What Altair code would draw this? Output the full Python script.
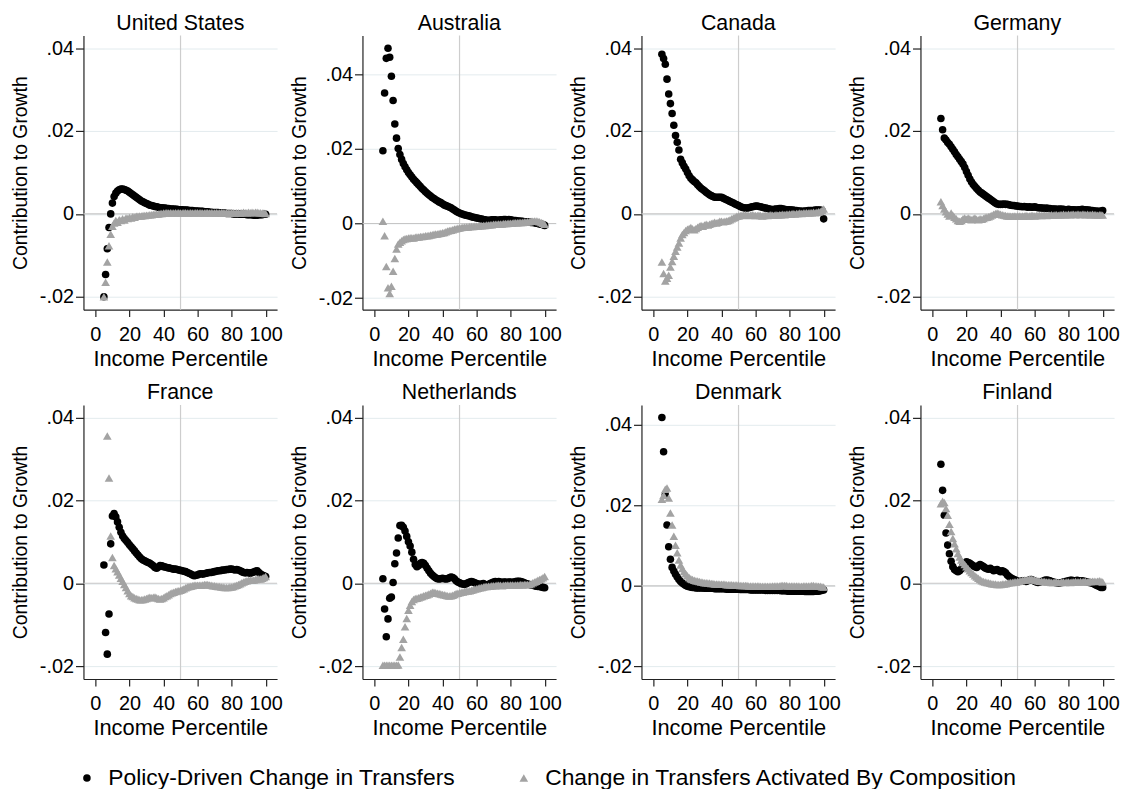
import altair as alt
import pandas as pd

# ---------------- data (values in thousandths, percentiles 5..100) ----------------
PCT = list(range(5, 101))
COUNTRIES = ["United States", "Australia", "Canada", "Germany",
             "France", "Netherlands", "Denmark", "Finland"]
SERIES = ["Policy-Driven Change in Transfers",
          "Change in Transfers Activated By Composition"]
TICK_VALUES = [-0.02, 0, 0.02, 0.04]
TICK_LABELS = ["-.02", "0", ".02", ".04"]
X_TICKS = [0, 20, 40, 60, 80, 100]

US_P = [-20, -14.6, -8.4, -3.3, 0, 2.6, 4.2, 5.0, 5.5, 5.8, 6.0, 6.0, 5.9, 5.7, 5.5, 5.2,
        4.9, 4.6, 4.3, 4.0, 3.7, 3.4, 3.1, 2.9, 2.7, 2.5,
        2.3, 2.1, 2.0, 1.9, 1.8, 1.7, 1.6, 1.5, 1.5, 1.4,
        1.4, 1.3, 1.3, 1.2, 1.2, 1.2, 1.1, 1.1, 1.0, 1.0,
        1.0, 0.9, 0.9, 0.9, 0.8, 0.8, 0.8, 0.7, 0.7, 0.7,
        0.6, 0.6, 0.6, 0.5, 0.5, 0.5, 0.4, 0.4, 0.3, 0.3,
        0.3, 0.3, 0.2, 0.2, 0.2, 0.2, 0.1, 0.1, 0.1, 0.1,
        0.0, 0.0, 0.0, 0.0, -0.1, -0.1, -0.1, -0.1, -0.2, -0.2,
        -0.2, -0.2, -0.3, -0.3, -0.3, -0.2, -0.2, -0.2, -0.1, -0.1]
US_C = [-20, -16.5, -11.6, -7.7, -4.9, -3.0, -2.2, -1.6, -2.0, -1.4, -1.6, -1.2, -1.5, -1.0, -1.1, -0.9,
        -1.0, -0.7, -0.8, -0.6, -0.6, -0.5, -0.5, -0.4, -0.4, -0.3,
        -0.3, -0.2, -0.2, -0.1, -0.1, 0.0, 0.0, 0.1, 0.1, 0.2,
        0.2, 0.3, 0.2, 0.3, 0.2, 0.2, 0.3, 0.2, 0.3, 0.2,
        0.2, 0.3, 0.3, 0.2, 0.2, 0.3, 0.2, 0.2, 0.3, 0.3,
        0.2, 0.3, 0.2, 0.2, 0.3, 0.3, 0.2, 0.3, 0.2, 0.2,
        0.3, 0.2, 0.2, 0.3, 0.3, 0.2, 0.3, 0.2, 0.2, 0.3,
        0.3, 0.2, 0.3, 0.3, 0.2, 0.3, 0.4, 0.3, 0.3, 0.4,
        0.3, 0.4, 0.3, 0.4, 0.4, 0.3, 0.3, 0.2, 0.2, 0.1]

AU_P = [19.5, 35.0, 44.3, 47.0, 44.6, 39.5, 33.0, 26.7, 22.9, 20.1, 18.5, 17.2, 16.1, 15.2, 14.4, 13.7,
        13.1, 12.5, 11.9, 11.4, 10.9, 10.4, 9.9, 9.4, 9.0, 8.5,
        8.1, 7.7, 7.4, 7.0, 6.7, 6.4, 6.1, 5.8, 5.6, 5.3,
        5.0, 4.8, 4.6, 4.4, 4.2, 3.9, 3.6, 3.3, 3.0, 2.8,
        2.6, 2.5, 2.3, 2.2, 2.1, 2.0, 1.8, 1.7, 1.6, 1.5,
        1.4, 1.3, 1.2, 1.1, 1.0, 0.9, 0.9, 0.9, 1.0, 1.0,
        1.0, 0.9, 0.9, 1.0, 1.0, 1.1, 1.1, 1.0, 1.1, 1.0,
        0.9, 0.8, 0.8, 0.7, 0.7, 0.6, 0.6, 0.5, 0.5, 0.4,
        0.4, 0.3, 0.3, 0.2, 0.1, 0.0, -0.1, -0.2, -0.3, -0.5]
AU_C = [0.6, -3.3, -11.5, -17.2, -18.8, -16.8, -12.8, -9.4, -6.8, -5.5, -5.0, -4.6, -4.3, -4.1, -4.0, -3.9,
        -3.8, -3.8, -3.9, -3.7, -3.6, -3.6, -3.5, -3.5, -3.4, -3.3,
        -3.3, -3.2, -3.1, -3.0, -2.9, -2.8, -2.8, -2.7, -2.6, -2.5,
        -2.4, -2.2, -2.0, -1.9, -1.8, -1.7, -1.5, -1.4, -1.3, -1.2,
        -1.1, -1.0, -1.0, -0.9, -0.9, -0.8, -0.8, -0.8, -0.7, -0.7,
        -0.7, -0.6, -0.6, -0.5, -0.5, -0.4, -0.4, -0.3, -0.3, -0.2,
        -0.2, -0.2, -0.1, -0.1, -0.1, 0.0, 0.0, 0.0, 0.1, 0.1,
        0.1, 0.2, 0.2, 0.2, 0.3, 0.3, 0.3, 0.4, 0.4, 0.5,
        0.5, 0.6, 0.6, 0.7, 0.7, 0.6, 0.5, 0.3, 0.1, -0.2]

CA_P = [38.5, 37.5, 36.1, 32.5, 28.9, 26.6, 24.2, 21.4, 18.9, 17.3, 15.4, 13.2, 12.3, 11.5, 10.8, 10.0,
        9.2, 8.6, 8.2, 7.8, 7.5, 7.0, 6.6, 6.2, 5.9, 5.6,
        5.2, 4.9, 4.6, 4.4, 4.2, 4.0, 4.0, 4.0, 4.0, 4.0,
        3.8, 3.6, 3.4, 3.2, 3.0, 2.8, 2.6, 2.4, 2.2, 2.0,
        1.8, 1.6, 1.5, 1.4, 1.4, 1.5, 1.6, 1.7, 1.8, 1.9,
        1.9, 1.8, 1.7, 1.6, 1.5, 1.4, 1.3, 1.2, 1.1, 1.0,
        1.1, 1.2, 1.2, 1.3, 1.3, 1.2, 1.1, 1.0, 1.0, 1.0,
        0.9, 0.9, 0.8, 0.8, 0.7, 0.7, 0.6, 0.6, 0.7, 0.7,
        0.8, 0.8, 0.8, 0.8, 0.9, 0.9, 0.9, 0.9, 0.8, -1.2]
CA_C = [-11.6, -14.4, -16.2, -15.5, -14.8, -12.8, -11.5, -10.2, -9.0, -8.0, -7.0, -5.8, -5.0, -4.5, -4.0, -3.7,
        -3.5, -3.3, -3.6, -3.8, -3.5, -3.2, -3.0, -2.8, -3.0, -2.7,
        -2.5, -2.7, -2.5, -2.3, -2.2, -2.0, -2.2, -2.0, -1.8, -1.8,
        -1.9, -1.8, -1.7, -1.6, -1.4, -1.2, -1.0, -0.8, -0.6, -0.5,
        -0.4, -0.3, -0.3, -0.2, -0.3, -0.4, -0.3, -0.2, -0.3, -0.4,
        -0.4, -0.3, -0.4, -0.5, -0.4, -0.3, -0.4, -0.3, -0.2, -0.3,
        -0.3, -0.2, -0.3, -0.2, -0.2, -0.1, -0.2, -0.1, -0.1, 0.0,
        0.0, 0.1, 0.0, 0.1, 0.1, 0.2, 0.1, 0.2, 0.2, 0.3,
        0.2, 0.3, 0.3, 0.4, 0.3, 0.4, 0.5, 0.6, 0.8, 1.2]

DE_P = [23.0, 20.3, 18.3, 17.8, 17.2, 16.8, 16.2, 15.6, 15.0, 14.3, 13.8, 13.2, 12.6, 12.0, 11.2, 10.2,
        9.3, 8.4, 7.7, 7.1, 6.6, 6.1, 5.7, 5.3, 5.0, 4.7,
        4.4, 4.1, 3.8, 3.5, 3.2, 2.9, 2.6, 2.4, 2.3, 2.3,
        2.3, 2.4, 2.3, 2.3, 2.2, 2.1, 2.0, 2.0, 1.9, 1.9,
        1.8, 1.8, 1.7, 1.8, 1.7, 1.6, 1.7, 1.6, 1.6, 1.7,
        1.6, 1.5, 1.5, 1.4, 1.4, 1.3, 1.4, 1.3, 1.3, 1.2,
        1.2, 1.2, 1.1, 1.1, 1.2, 1.1, 1.1, 1.0, 1.0, 1.1,
        1.0, 1.0, 1.0, 0.9, 0.9, 1.0, 1.0, 1.1, 1.0, 1.0,
        0.9, 0.9, 0.8, 0.8, 0.7, 0.7, 0.6, 0.6, 0.6, 0.8]
DE_C = [2.9, 2.0, 1.2, 0.5, 0.0, -0.5, 0.2, -0.3, -0.8, -1.2, -1.6, -1.8, -1.6, -1.2, -1.0, -1.3,
        -1.0, -1.2, -1.4, -1.2, -1.0, -1.3, -1.4, -1.2, -1.3, -1.1,
        -0.9, -0.8, -0.7, -0.5, -0.3, -0.1, 0.1, 0.2, 0.1, -0.1,
        -0.2, -0.3, -0.4, -0.5, -0.5, -0.6, -0.6, -0.5, -0.6, -0.5,
        -0.5, -0.6, -0.5, -0.5, -0.4, -0.5, -0.5, -0.4, -0.4, -0.5,
        -0.4, -0.4, -0.3, -0.4, -0.3, -0.3, -0.4, -0.3, -0.3, -0.2,
        -0.3, -0.2, -0.2, -0.3, -0.2, -0.2, -0.1, -0.2, -0.2, -0.1,
        -0.2, -0.1, -0.1, -0.2, -0.1, -0.1, -0.2, -0.1, -0.1, -0.2,
        -0.1, -0.2, -0.2, -0.1, -0.2, -0.2, -0.3, -0.2, -0.2, -0.3]

FR_P = [4.4, -11.9, -17.1, -7.4, 9.5, 16.2, 16.8, 16.0, 14.8, 13.5, 12.3, 11.4, 10.8, 10.3, 9.8, 9.3,
        8.8, 8.3, 7.8, 7.3, 6.8, 6.3, 5.9, 5.6, 5.4, 5.2,
        5.0, 4.8, 4.5, 4.2, 3.8, 3.6, 3.9, 4.3, 4.2, 4.0,
        3.9, 3.8, 3.7, 3.6, 3.5, 3.4, 3.4, 3.3, 3.2, 3.1,
        3.0, 2.9, 2.8, 2.6, 2.4, 2.2, 2.0, 1.8, 1.9, 2.0,
        2.2, 2.3, 2.2, 2.3, 2.4, 2.5, 2.6, 2.6, 2.7, 2.8,
        2.9, 3.0, 3.0, 3.1, 3.2, 3.2, 3.3, 3.3, 3.4, 3.4,
        3.3, 3.2, 3.3, 3.2, 3.0, 2.8, 2.6, 2.5, 2.6, 2.5,
        2.4, 2.6, 2.7, 2.9, 3.0, 2.6, 2.2, 2.0, 1.8, 1.6]
FR_C = [None, None, 35.5, 25.4, 11.4, 6.2, 4.3, 3.5, 2.8, 2.0, 1.2, 0.5, -0.3, -1.0, -1.8, -2.5,
        -3.0, -3.2, -3.5, -3.7, -3.8, -4.0, -4.0, -3.9, -3.8, -3.7,
        -3.5, -3.4, -3.5, -3.4, -3.3, -3.5, -3.7, -3.8, -3.7, -3.5,
        -3.2, -3.0, -2.8, -2.5, -2.3, -2.2, -2.0, -1.9, -1.8, -1.7,
        -1.5, -1.3, -1.1, -0.9, -0.8, -0.7, -0.6, -0.5, -0.5, -0.5,
        -0.5, -0.5, -0.4, -0.3, -0.3, -0.3, -0.4, -0.5, -0.6, -0.6,
        -0.7, -0.8, -0.8, -0.9, -0.9, -1.0, -1.0, -1.0, -0.9, -0.9,
        -0.8, -0.6, -0.5, -0.3, -0.1, 0.1, 0.3, 0.5, 0.6, 0.7,
        0.8, 0.7, 0.8, 0.9, 1.0, 1.1, 1.0, 1.2, 1.4, 1.6]

NL_P = [1.1, -6.2, -12.9, -8.6, -3.6, -3.3, 0.2, 4.7, 7.3, 10.9, 13.9, 14.0, 13.5, 12.6, 11.3, 10.0,
        9.0, 7.5, 5.8, 4.5, 4.0, 4.3, 4.8, 5.0, 4.8, 4.3,
        3.6, 3.0, 2.4, 2.0, 1.6, 1.3, 1.1, 1.0, 1.1, 1.2,
        1.1, 1.0, 1.1, 1.3, 1.5, 1.4, 1.1, 0.6, 0.3, 0.1,
        -0.1, -0.2, -0.3, -0.1, 0.1, 0.3, 0.4, 0.3, 0.1, -0.1,
        -0.2, -0.3, -0.2, -0.1, -0.3, -0.4, -0.3, -0.1, 0.1, 0.3,
        0.4, 0.3, 0.4, 0.3, 0.2, 0.3, 0.3, 0.2, 0.3, 0.3,
        0.2, 0.3, 0.4, 0.5, 0.5, 0.4, 0.3, 0.1, -0.1, -0.2,
        -0.3, -0.4, -0.5, -0.6, -0.7, -0.8, -0.8, -0.9, -1.0, -1.1]
NL_C = [-19.8, -19.8, -19.8, -19.8, -19.8, -19.8, -19.8, -19.8, -19.8, -19.7, -17.8, -15.5, -13.5, -10.5, -8.5, -6.5,
        -5.3, -4.4, -3.9, -3.7, -3.6, -3.5, -3.3, -3.2, -3.0, -2.9,
        -2.8, -2.6, -2.4, -2.2, -2.2, -2.3, -2.4, -2.5, -2.6, -2.7,
        -2.8, -2.9, -3.0, -3.1, -3.0, -2.9, -2.7, -2.5, -2.4, -2.3,
        -2.2, -2.1, -2.0, -1.9, -1.9, -1.8, -1.7, -1.6, -1.4, -1.3,
        -1.2, -1.1, -1.0, -0.9, -0.8, -0.8, -0.7, -0.7, -0.6, -0.6,
        -0.6, -0.5, -0.5, -0.5, -0.6, -0.5, -0.5, -0.4, -0.5, -0.4,
        -0.4, -0.5, -0.4, -0.4, -0.4, -0.3, -0.4, -0.3, -0.3, -0.3,
        -0.3, -0.1, 0.1, 0.3, 0.5, 0.7, 0.9, 1.1, 1.3, 1.6]

DK_P = [41.8, 33.3, 22.6, 15.1, 9.7, 6.6, 4.6, 3.7, 2.9, 2.2, 1.6, 1.1, 0.7, 0.4, 0.1, -0.1,
        -0.2, -0.3, -0.4, -0.4, -0.5, -0.5, -0.5, -0.5, -0.5, -0.6,
        -0.6, -0.6, -0.6, -0.6, -0.6, -0.7, -0.7, -0.7, -0.7, -0.7,
        -0.7, -0.7, -0.8, -0.8, -0.8, -0.8, -0.8, -0.8, -0.8, -0.8,
        -0.9, -0.9, -0.9, -0.9, -0.9, -0.9, -1.0, -1.0, -1.0, -1.0,
        -1.0, -1.0, -1.0, -1.0, -1.0, -1.1, -1.1, -1.1, -1.1, -1.1,
        -1.1, -1.1, -1.1, -1.1, -1.2, -1.2, -1.2, -1.2, -1.3, -1.3,
        -1.3, -1.3, -1.3, -1.3, -1.3, -1.3, -1.3, -1.3, -1.4, -1.4,
        -1.4, -1.4, -1.4, -1.4, -1.3, -1.3, -1.3, -1.2, -1.1, -1.0]
DK_C = [21.5, 22.5, 24.0, 24.3, 21.8, 18.1, 15.1, 12.3, 10.1, 8.2, 6.4, 5.2, 4.3, 3.6, 3.0, 2.5,
        2.1, 1.8, 1.6, 1.4, 1.3, 1.2, 1.1, 1.0, 0.9, 0.8,
        0.8, 0.7, 0.7, 0.6, 0.6, 0.5, 0.5, 0.5, 0.4, 0.4,
        0.4, 0.4, 0.3, 0.3, 0.3, 0.3, 0.2, 0.2, 0.2, 0.2,
        0.1, 0.1, 0.1, 0.1, 0.1, 0.0, 0.0, 0.0, 0.0, 0.0,
        0.0, 0.0, -0.1, -0.1, -0.1, -0.1, -0.1, -0.1, -0.1, 0.0,
        0.0, 0.0, 0.0, 0.0, 0.1, 0.1, 0.1, 0.1, 0.0, 0.0,
        0.0, 0.0, 0.0, 0.0, 0.0, -0.1, -0.1, 0.0, 0.0, 0.0,
        0.0, 0.0, 0.1, 0.1, 0.0, 0.0, -0.1, -0.1, -0.2, -0.3]

FI_P = [28.7, 22.4, 16.4, 12.1, 9.2, 7.1, 5.3, 4.0, 3.3, 3.0, 2.8, 3.0, 3.5, 4.2, 4.8, 5.2,
        5.0, 4.8, 4.5, 4.2, 4.0, 3.8, 4.2, 4.5, 4.3, 4.0,
        3.7, 3.5, 3.4, 3.6, 3.3, 3.0, 3.2, 3.3, 3.0, 2.8,
        3.0, 2.8, 2.5, 2.0, 1.6, 1.3, 1.1, 0.9, 0.7, 0.5,
        0.4, 0.5, 0.6, 0.5, 0.4, 0.6, 0.8, 0.9, 0.7, 0.5,
        0.3, 0.2, 0.3, 0.4, 0.5, 0.7, 0.8, 0.7, 0.6, 0.4,
        0.3, 0.2, 0.1, 0.0, 0.1, 0.2, 0.3, 0.4, 0.5, 0.6,
        0.7, 0.7, 0.6, 0.6, 0.7, 0.6, 0.5, 0.6, 0.5, 0.4,
        0.3, 0.2, 0.1, 0.0, -0.2, -0.4, -0.6, -0.8, -1.0, -1.0]
FI_C = [19.2, 19.8, 19.5, 18.0, 16.4, 14.2, 12.5, 10.8, 9.5, 8.3, 7.2, 6.3, 5.6, 5.0, 4.5, 4.0,
        3.5, 3.0, 2.6, 2.2, 1.8, 1.5, 1.2, 0.9, 0.6, 0.4,
        0.3, 0.2, 0.1, 0.0, -0.1, -0.2, -0.2, -0.3, -0.3, -0.3,
        -0.2, -0.2, -0.1, 0.0, 0.1, 0.2, 0.2, 0.3, 0.3, 0.4,
        0.5, 0.6, 0.7, 0.8, 0.8, 0.9, 1.0, 1.0, 0.9, 0.8,
        0.7, 0.6, 0.5, 0.5, 0.4, 0.4, 0.3, 0.3, 0.3, 0.2,
        0.2, 0.3, 0.3, 0.2, 0.2, 0.3, 0.3, 0.2, 0.3, 0.3,
        0.2, 0.3, 0.3, 0.4, 0.3, 0.3, 0.4, 0.3, 0.4, 0.4,
        0.3, 0.4, 0.4, 0.5, 0.5, 0.4, 0.5, 0.6, 0.5, 0.3]

POLICY = dict(zip(COUNTRIES, [US_P, AU_P, CA_P, DE_P, FR_P, NL_P, DK_P, FI_P]))
COMPOSITION = dict(zip(COUNTRIES, [US_C, AU_C, CA_C, DE_C, FR_C, NL_C, DK_C, FI_C]))

STD = [-0.0231, 0.0430]
Y_DOMAINS = {"United States": STD, "Australia": [-0.0231, 0.0504], "Canada": STD,
             "Germany": STD, "France": STD, "Netherlands": STD,
             "Denmark": [-0.0231, 0.0449], "Finland": STD}

FONT = "Liberation Sans"
GRAY = "#a3a3a3"
PANEL_W, PANEL_H = 195, 276

label_expr = "".join(
    f"abs(datum.value - ({v})) < 1e-9 ? '{lab}' : " for v, lab in zip(TICK_VALUES, TICK_LABELS)
) + "''"


def panel(country):
    rows = []
    for x, v in zip(PCT, POLICY[country]):
        if v is not None:
            rows.append({"pct": x, "val": v / 1000.0, "series": SERIES[0]})
    for x, v in zip(PCT, COMPOSITION[country]):
        if v is not None:
            rows.append({"pct": x, "val": v / 1000.0, "series": SERIES[1]})
    df = pd.DataFrame(rows)

    xenc = alt.X("pct:Q",
                 scale=alt.Scale(domain=[-7, 106.7], nice=False, zero=False),
                 axis=alt.Axis(values=X_TICKS, title="Income Percentile", grid=False,
                               labelFontSize=20, titleFontSize=22, tickSize=7,
                               labelPadding=8, titlePadding=4, labelFlush=False,
                               labelOverlap=False))
    yenc = alt.Y("val:Q",
                 scale=alt.Scale(domain=Y_DOMAINS[country], nice=False, zero=False),
                 axis=alt.Axis(values=TICK_VALUES, labelExpr=label_expr,
                               title="Contribution to Growth", grid=True,
                               gridColor="#e3ebee", gridWidth=1,
                               labelFontSize=20, titleFontSize=19.5, tickSize=8,
                               labelPadding=2, titlePadding=9, labelFlush=False,
                               labelOverlap=False))

    zero = alt.Chart(pd.DataFrame({"val": [0.0]})).mark_rule(
        color="#c6c6c6", strokeWidth=1.2).encode(y=yenc)
    vline = alt.Chart(pd.DataFrame({"pct": [50]})).mark_rule(
        color="#cdcdcd", strokeWidth=1.2).encode(x=xenc)
    pts = alt.Chart(df).mark_point(filled=True, opacity=1, strokeWidth=0).encode(
        x=xenc, y=yenc,
        color=alt.Color("series:N",
                        scale=alt.Scale(domain=SERIES, range=["#000000", GRAY]),
                        legend=alt.Legend(title=None)),
        shape=alt.Shape("series:N",
                        scale=alt.Scale(domain=SERIES, range=["circle", "triangle-up"]),
                        legend=alt.Legend(title=None)),
        size=alt.Size("series:N",
                      scale=alt.Scale(domain=SERIES, range=[58, 76]),
                      legend=None),
    )
    return alt.layer(vline, zero, pts).properties(
        width=PANEL_W, height=PANEL_H,
        title=alt.TitleParams(text=country, fontSize=21.5, font=FONT, fontWeight="normal",
                              anchor="middle", color="#000000", offset=1),
    )


chart = alt.concat(*[panel(c) for c in COUNTRIES], columns=4,
                   spacing={"row": 96, "column": 86}, bounds="flush").properties(
    padding={"left": 2, "top": 1, "right": 5, "bottom": 0}
).configure_view(strokeWidth=0).configure_axis(
    labelFont=FONT, titleFont=FONT, labelColor="#000000", titleColor="#000000",
    titleFontWeight="normal", domainColor="#222222", tickColor="#222222",
    domainWidth=1.2, tickWidth=1.2,
).configure_legend(
    orient="none", legendX=-8, legendY=736, direction="horizontal",
    labelFont=FONT, labelFontSize=23, labelColor="#000000", symbolSize=70,
    symbolStrokeWidth=0, labelOffset=10, columnPadding=57, padding=0,
    labelLimit=600,
)

chart.save("out.html", embed_options={"renderer": "svg", "actions": False})
